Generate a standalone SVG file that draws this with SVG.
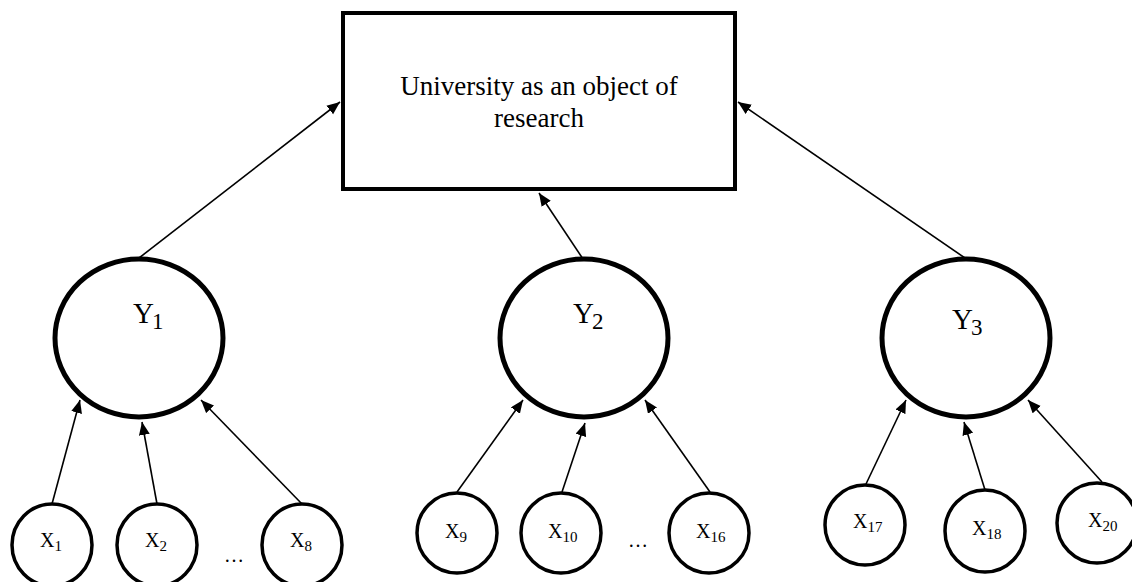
<svg xmlns="http://www.w3.org/2000/svg" width="1132" height="582" viewBox="0 0 1132 582">
<style>
.box{fill:#fff;stroke:#000;stroke-width:4}
.y{fill:#fff;stroke:#000;stroke-width:5}
.x{fill:#fff;stroke:#000;stroke-width:3.5}
.t{font-family:"Liberation Serif","Times New Roman",serif;fill:#000}
.edge{stroke:#000;stroke-width:1.6;fill:none;marker-end:url(#ah)}
</style>
<defs>
<marker id="ah" markerUnits="userSpaceOnUse" markerWidth="14" markerHeight="12" refX="13" refY="5.5" orient="auto">
<path d="M0,0 L13,5.5 L0,11 z" fill="#000"/>
</marker>
</defs>
<g id="edges">
<line class="edge" x1="139" y1="258" x2="340" y2="102"/>
<line class="edge" x1="583" y1="259" x2="539" y2="193"/>
<line class="edge" x1="965" y1="258" x2="738" y2="102"/>
<line class="edge" x1="52" y1="504" x2="80" y2="400"/>
<line class="edge" x1="157" y1="504" x2="142" y2="422"/>
<line class="edge" x1="302" y1="504" x2="201" y2="400"/>
<line class="edge" x1="457" y1="492" x2="523" y2="400"/>
<line class="edge" x1="562" y1="492" x2="585" y2="423"/>
<line class="edge" x1="710" y1="492" x2="645" y2="400"/>
<line class="edge" x1="866" y1="484" x2="906" y2="400"/>
<line class="edge" x1="985" y1="490" x2="964" y2="422"/>
<line class="edge" x1="1102" y1="482" x2="1028" y2="400"/>
</g>
<g id="university">
<rect class="box" x="343" y="13" width="392" height="176"/>
<text class="t" x="539" y="95" font-size="27" text-anchor="middle">University as an object of</text>
<text class="t" x="539" y="127" font-size="27" text-anchor="middle">research</text>
</g>
<g id="Y1">
<ellipse class="y" cx="139" cy="338" rx="84" ry="79"/>
<text class="t" x="133" y="323" font-size="29">Y<tspan font-size="23" dx="-2" dy="6">1</tspan></text>
</g>
<g id="Y2">
<ellipse class="y" cx="584" cy="338" rx="84" ry="79"/>
<text class="t" x="573" y="323" font-size="29">Y<tspan font-size="23" dx="-2" dy="6">2</tspan></text>
</g>
<g id="Y3">
<ellipse class="y" cx="966" cy="338" rx="84" ry="79"/>
<text class="t" x="952" y="329" font-size="29">Y<tspan font-size="23" dx="-2" dy="6">3</tspan></text>
</g>
<g id="X1">
<ellipse class="x" cx="52" cy="545" rx="40" ry="41"/>
<text class="t" x="40" y="547" font-size="20">X<tspan font-size="15" dy="4">1</tspan></text>
</g>
<g id="X2">
<ellipse class="x" cx="157" cy="545" rx="40" ry="41"/>
<text class="t" x="145" y="547" font-size="20">X<tspan font-size="15" dy="4">2</tspan></text>
</g>
<g id="dots1"><text class="t" x="234" y="562" font-size="20" text-anchor="middle">…</text></g>
<g id="X8">
<ellipse class="x" cx="302" cy="545" rx="40" ry="41"/>
<text class="t" x="290" y="547" font-size="20">X<tspan font-size="15" dy="4">8</tspan></text>
</g>
<g id="X9">
<ellipse class="x" cx="457" cy="533" rx="40" ry="40"/>
<text class="t" x="445" y="538" font-size="20">X<tspan font-size="15" dy="4">9</tspan></text>
</g>
<g id="X10">
<ellipse class="x" cx="561" cy="533" rx="40" ry="40"/>
<text class="t" x="548" y="538" font-size="20">X<tspan font-size="15" dy="4">10</tspan></text>
</g>
<g id="dots2"><text class="t" x="638" y="547" font-size="20" text-anchor="middle">…</text></g>
<g id="X16">
<ellipse class="x" cx="709" cy="533" rx="40" ry="40"/>
<text class="t" x="696" y="538" font-size="20">X<tspan font-size="15" dy="4">16</tspan></text>
</g>
<g id="X17">
<ellipse class="x" cx="865" cy="525" rx="40" ry="40"/>
<text class="t" x="853" y="528" font-size="20">X<tspan font-size="15" dy="4">17</tspan></text>
</g>
<g id="X18">
<ellipse class="x" cx="985" cy="531" rx="40" ry="41"/>
<text class="t" x="972" y="535" font-size="20">X<tspan font-size="15" dy="4">18</tspan></text>
</g>
<g id="X20">
<ellipse class="x" cx="1097" cy="523" rx="40" ry="40"/>
<text class="t" x="1088" y="527" font-size="20">X<tspan font-size="15" dy="4">20</tspan></text>
</g>
</svg>
